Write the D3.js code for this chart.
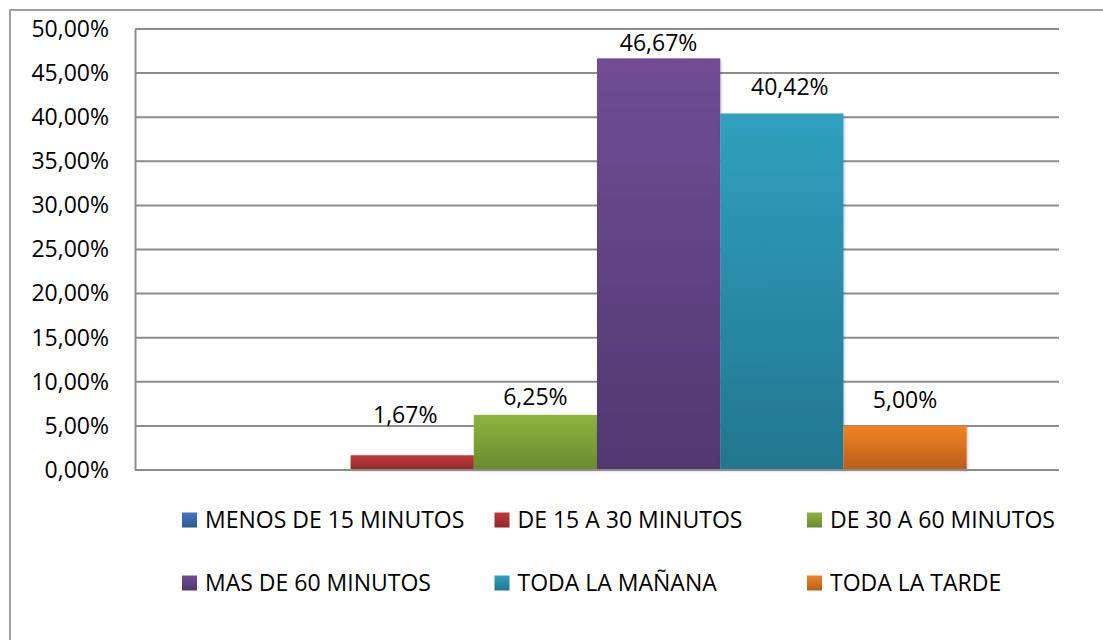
<!DOCTYPE html>
<html>
<head>
<meta charset="utf-8">
<script src="https://cdn.jsdelivr.net/npm/d3@7"></script>
<style>
  body { margin: 0; background: #fff; }
  text { font-family: "Open Sans", "Noto Sans", sans-serif; fill: #000; }
</style>
</head>
<body>
<script>
'use strict';

// chart data
let categories = ["MENOS DE 15 MINUTOS", "DE 15 A 30 MINUTOS", "DE 30 A 60 MINUTOS",
                  "MAS DE 60 MINUTOS", "TODA LA MAÑANA", "TODA LA TARDE"];
let values = [0, 1.67, 6.25, 46.67, 40.42, 5.00];
let yTicks = [0, 5, 10, 15, 20, 25, 30, 35, 40, 45, 50];

// gradient colours per series (top, bottom)
let colorsTop = ["#4677bf", "#c0393a", "#8fb33f", "#704d95", "#30a0c0", "#f28325"];
let colorsBottom = ["#2c5893", "#922a28", "#6a8a2f", "#513870", "#22768d", "#b85d19"];

(function() {
  let width = 1103, height = 640;
  let plot = { left: 135, right: 1059, top: 29, bottom: 470 };

  let svg = d3.select('body').append('svg')
    .attr('width', width)
    .attr('height', height);

  // gradients
  let defs = svg.append('defs');
  categories.forEach((c, i) => {
    let g = defs.append('linearGradient')
      .attr('id', 'grad' + i)
      .attr('x1', 0).attr('y1', 0).attr('x2', 0).attr('y2', 1);
    g.append('stop').attr('offset', '0%').attr('stop-color', colorsTop[i]);
    g.append('stop').attr('offset', '100%').attr('stop-color', colorsBottom[i]);
  });
  let shadow = defs.append('filter').attr('id', 'shadow')
    .attr('x', '-10%').attr('y', '-10%').attr('width', '120%').attr('height', '120%');
  shadow.append('feDropShadow').attr('dx', 1).attr('dy', 1).attr('stdDeviation', 1.2)
    .attr('flood-color', '#000').attr('flood-opacity', 0.25);

  // outer chart border (runs off the right and bottom of the picture)
  svg.append('rect')
    .attr('x', 10).attr('y', 10)
    .attr('width', width + 20).attr('height', height + 20)
    .attr('fill', 'none')
    .attr('stroke', '#a0a0a0')
    .attr('stroke-width', 2);

  // scales
  let yScale = d3.scaleLinear().domain([0, 50]).range([plot.bottom, plot.top]);
  let gap = (plot.right - plot.left) / (categories.length + 1.5) * 0.75; // 150% gap width
  let xScale = d3.scaleBand()
    .domain(categories)
    .range([plot.left + gap, plot.right - gap])
    .padding(0);

  // gridlines
  svg.append('g').selectAll('line')
    .data(yTicks)
    .enter()
    .append('line')
      .attr('x1', plot.left).attr('x2', plot.right)
      .attr('y1', (d) => yScale(d)).attr('y2', (d) => yScale(d))
      .attr('stroke', '#8c8c8c')
      .attr('stroke-width', 2);

  // y axis
  let yAxis = d3.axisLeft(yScale)
    .tickValues(yTicks)
    .tickSize(0)
    .tickPadding(26)
    .tickFormat((d) => d.toFixed(2).replace('.', ',') + '%');
  let yG = svg.append('g')
    .attr('transform', 'translate(' + plot.left + ', 0)')
    .call(yAxis);
  yG.select('.domain').attr('stroke', '#8c8c8c').attr('stroke-width', 2);
  yG.selectAll('text')
    .style('font-size', '23px')
    .style('font-family', '"Open Sans", sans-serif');

  // bars
  svg.append('g').selectAll('rect')
    .data(values)
    .enter()
    .append('rect')
      .attr('x', (d, i) => xScale(categories[i]))
      .attr('y', (d) => yScale(d))
      .attr('width', xScale.bandwidth())
      .attr('height', (d) => yScale(0) - yScale(d))
      .attr('fill', (d, i) => 'url(#grad' + i + ')')
      .attr('filter', (d) => d > 0 ? 'url(#shadow)' : null);

  // x axis line
  svg.append('line')
    .attr('x1', plot.left).attr('x2', plot.right)
    .attr('y1', plot.bottom).attr('y2', plot.bottom)
    .attr('stroke', '#8c8c8c')
    .attr('stroke-width', 2);

  // data labels (small nudges like the hand-placed labels in the original)
  let nudgeX = [0, -7, 0, 0, 8, 0];
  let nudgeY = [0, 32, 10, 7, 18, 18];
  svg.append('g').selectAll('text')
    .data(values)
    .enter()
    .filter((d) => d > 0)
    .append('text')
      .attr('x', (d) => {
        let i = values.indexOf(d);
        return xScale(categories[i]) + xScale.bandwidth() / 2 + nudgeX[i];
      })
      .attr('y', (d) => yScale(d) - nudgeY[values.indexOf(d)])
      .attr('text-anchor', 'middle')
      .style('font-size', '23px')
      .text((d) => d.toFixed(2).replace('.', ',') + '%');

  // legend: 3 columns, 2 rows
  let legend = svg.append('g');
  let items = legend.selectAll('g')
    .data(categories)
    .enter()
    .append('g')
      .attr('transform', (d, i) => 'translate(' + (182 + (i % 3) * 312.5) + ',' + (520 + Math.floor(i / 3) * 63) + ')');
  items.append('rect')
    .attr('x', 0).attr('y', -7.5)
    .attr('width', 15).attr('height', 15)
    .attr('fill', (d, i) => 'url(#grad' + i + ')');
  items.append('text')
    .attr('x', 23)
    .attr('y', 0)
    .attr('dy', '0.36em')
    .style('font-size', '23px')
    .text((d) => d);
})();
</script>
</body>
</html>
